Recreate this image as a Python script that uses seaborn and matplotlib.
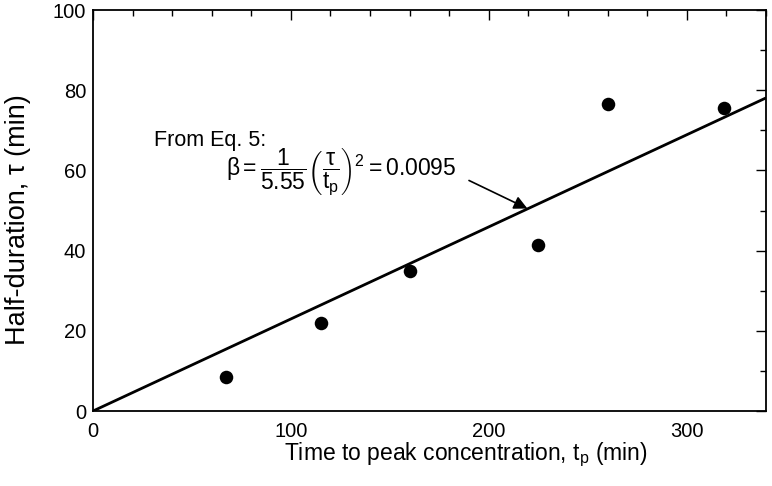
import numpy as np
import pandas as pd
import matplotlib
matplotlib.use("Agg")
import matplotlib.pyplot as plt
from matplotlib.ticker import MultipleLocator
import seaborn as sns

# Data
time_to_peak = [67, 115, 160, 225, 260, 319]      # t_p (min)
half_duration = [8.5, 22, 35, 41.5, 76.5, 75.5]   # tau (min)

# Fitted line from Eq. 5: beta = (1/5.55) (tau/t_p)^2
beta = 0.0095
fit_x = [0, 340]
slope = np.sqrt(5.55 * beta)
fit_y = [slope * v for v in fit_x]

points = pd.DataFrame({"tp": time_to_peak, "tau": half_duration})
fit = pd.DataFrame({"tp": fit_x, "tau": fit_y})

sns.set_theme(style="white")
plt.rcParams["font.family"] = ["Liberation Sans", "DejaVu Sans"]
plt.rcParams["text.color"] = "black"
plt.rcParams["axes.labelcolor"] = "black"
plt.rcParams["mathtext.fontset"] = "custom"
plt.rcParams["mathtext.rm"] = "Liberation Sans"
plt.rcParams["mathtext.it"] = "Liberation Sans"
plt.rcParams["mathtext.bf"] = "Liberation Sans:bold"

fig = plt.figure(figsize=(7.72, 4.86), dpi=100)
ax = fig.add_axes([0.1205, 0.1543, 0.8715, 0.825])

sns.lineplot(data=fit, x="tp", y="tau", color="black", linewidth=2.0, ax=ax)
sns.scatterplot(data=points, x="tp", y="tau", color="black", s=95,
                edgecolor="black", linewidth=0, ax=ax, zorder=3)

ax.set_xlim(0, 340)
ax.set_ylim(0, 100)
ax.xaxis.set_major_locator(MultipleLocator(100))
ax.xaxis.set_minor_locator(MultipleLocator(20))
ax.yaxis.set_major_locator(MultipleLocator(20))
ax.yaxis.set_minor_locator(MultipleLocator(10))
ax.tick_params(which="both", direction="in", top=True, right=True,
               colors="black", labelsize=14.5, width=1)
ax.tick_params(which="major", length=7)
ax.tick_params(which="minor", length=4)
ax.tick_params(axis="x", which="major", pad=8)
ax.tick_params(axis="y", which="major", pad=5)
for sp in ax.spines.values():
    sp.set_color("black")
    sp.set_linewidth(1.3)

ax.set_xlabel(r"Time to peak concentration, $\mathregular{t_p}$ (min)", fontsize=16.5)
ax.set_ylabel("Half-duration, \u03c4 (min)", fontsize=19.5)
ax.xaxis.set_label_coords(0.554, -0.075)
ax.yaxis.set_label_coords(-0.092, 0.478)

ax.text(31, 67.5, "From Eq. 5:", fontsize=15.5, va="center", ha="left")
ax.text(67, 59.5, r"$\beta = \dfrac{1}{5.55}\left(\dfrac{\tau}{t_p}\right)^2 = 0.0095$",
        fontsize=16.5, va="center", ha="left")
ax.annotate("", xy=(219.5, 50.5), xytext=(190, 57.5),
            arrowprops=dict(arrowstyle="-|>", color="black", lw=1.2,
                            mutation_scale=20, shrinkA=0, shrinkB=0))

fig.savefig("out.png", dpi=100)
